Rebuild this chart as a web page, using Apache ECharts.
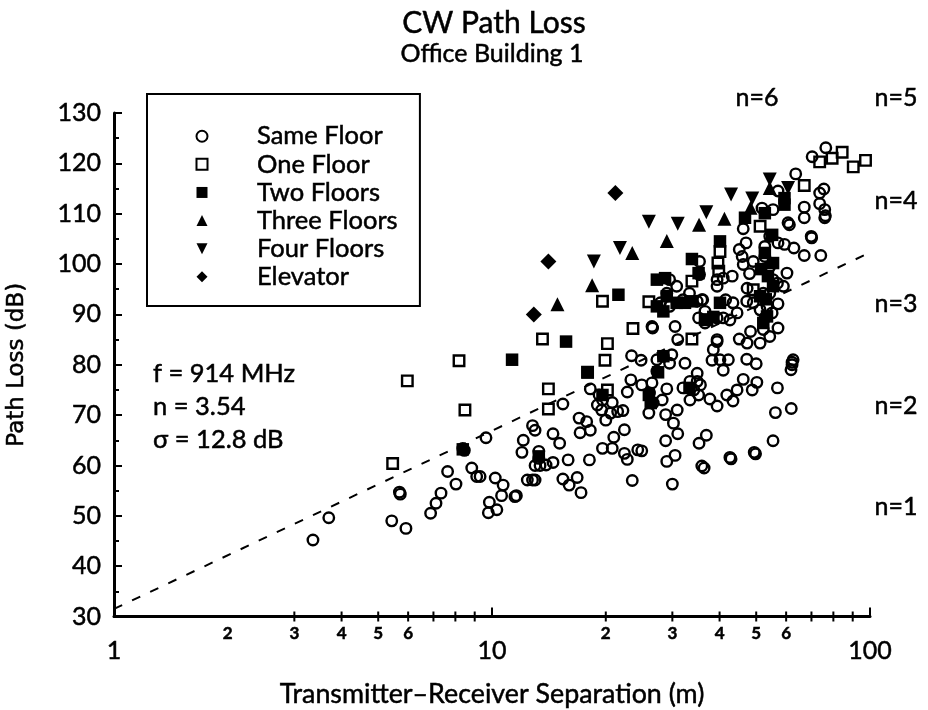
<!DOCTYPE html>
<html><head><meta charset="utf-8">
<style>html,body{margin:0;padding:0;background:#fff}#c{width:928px;height:710px}</style>
<script src="https://cdn.jsdelivr.net/npm/echarts@6/dist/echarts.min.js"></script>
</head><body><div id="c"></div>
<script>
const sameFloor=[[3.36,45.2],[3.7,49.6],[5.43,49],[5.92,47.5],[5.69,54.7],[5.72,54.3],[6.88,50.5],[7.11,52.5],[7.33,54.5],[8.03,56.3],[7.63,58.8],[8.84,59.5],[9.11,57.8],[9.3,57.8],[10.2,57.5],[9.84,52.7],[9.78,50.6],[10.3,51.2],[8.37,63.4],[8.45,63],[9.64,65.5],
[12.8,67.9],[13,67],[12.1,65],[12,62.6],[14.5,66.3],[15.1,64.4],[13.3,62.8],[13.3,61.4],[13,60],[13.4,60],[13.9,60.1],[14.5,60.6],[15.9,61.1],[18.1,61.1],[12.4,57.1],[12.8,57.1],[13,57.1],[10.7,56.1],[10.6,54],[11.6,54],[11.5,53.8],[15.4,57.3],[16,56.1],[16.8,57.6],[17.2,54.6],
[18.2,75.2],[15.4,72.2],[17,69.4],[17.8,68.7],[18.2,67],[17.1,66.5],[19,72],[20.8,72.5],[19.5,71],[20.6,70.4],[21.5,70.7],[22.2,70.9],[20,69],[19.2,74],[19.6,73],[23.4,81.8],[24.8,80.9],[32.4,80.3],[34.9,78.3],[23.3,77],[24.9,76],[22.8,74.6],[26,70.4],[28.8,70.1],[30.9,71],[30.2,68.4],[31,66.3],[28.8,64.9],[22.4,67.1],[21,65.6],[19.6,63.4],[20.8,63.4],[22.4,62.4],[22.8,61.2],[24.3,63.1],[24.9,62.9],[23.5,57],[30,56.3],[30.5,62],[29,60.8],[35.3,64.4],[36.9,66],[35.9,59.9],[36.4,59.5],[42.6,61.6],[42.9,61.3],[49.4,62.6],[49.8,62.3],[55.4,64.9],[56.2,70.5],[61.9,71.3],[56.9,75.4],[62.6,81],[62.2,80],[61.8,79],[62.2,80.5],[37.7,73.2],[39.4,71.8],[41.8,74],[43.4,72.8],[44.5,75],[46.2,77.1],[48.8,75],[50.2,76.5],[38.2,80.9],[40.1,81],[42.2,81],[40.9,78.9],[38.5,83],[39.4,84.6],[47.2,81.1],[50,80.2],
[32,75.4],[33.4,76.7],[34.9,76.7],[35.6,76],[35.2,74],[33.4,73],[34.2,75],[26.5,76.4],[26.1,74.4],[26.7,72.4],[28.2,73],[29,75.2],[27.3,78.7],[28.4,81.7],[29.5,80.3],[27.3,81],[29.9,82],
[76.4,123.1],[70.3,121.3],[63.6,117.9],[75.5,114.9],[73.6,114.1],[73.6,112],[75.9,110.8],[75.9,109.2],[76.2,109.6],[67,111.3],[67,109.2],[60.7,108.2],[61.2,107.8],[69.9,105.5],[70.1,105.2],[67,101.7],[74.1,101.7],[62.9,103.2],[59.4,103.9],[57.1,104.2],[57.1,114.5],[51.8,111.1],[55.4,110.8],[46.2,107],[47,104.2],[45.1,102.9],[45.9,101.5],[46.2,99.9],[49.1,100.5],[48,98.1],[47.3,95.2],[60.3,98.2],[59,95.6],[57.1,92.1],[55.1,90.3],[54.3,85.6],[57.1,87.3],[48.3,86.6],[45.1,85.1],[47.3,84.3],[43.2,97.6],[39.4,85],[35.9,92.9],[35.4,97.9],[35.4,100.5],[30.5,87.6],[31,85],[26.5,87.6],[26.6,87.3],
[29.5,96.9],[29,94.2],[30.8,95.6],[27.9,92.3],[29.5,91.6],[32,92.9],[33.3,94.2],[34.9,92.6],[36.1,92.9],[36.6,90.6],[35.2,89.3],[36.6,88.3],[39.4,89.3],[41.5,92.9],[43.4,92.3],[44.5,90.3],[42.6,88.9],[40.9,89.3],[47.2,92.6],[49.1,92.3],[51.2,90.9],[53.4,91.6],[52.7,89.3],[52.2,87],[51.2,84.3],[54.3,99.5],[55.4,96.9],[52.7,101.5],[54.3,105.5],[52.7,103.5],[56.9,96.2],[52.2,94.2],[54.3,94.2],[39.4,95.6],[39.4,96.9],[40.9,97.2]];
const oneFloor=[[5.46,60.4],[5.97,76.8],[8.18,80.8],[8.48,71],[13.6,85.1],[14.1,75.2],[14.1,71.2],[19.9,80.9],[20.2,84.2],[20.2,75],[17.9,78.5],[19.6,92.6],[23.6,87.2],[26,92.5],[33.8,85.1],[33.8,96.6],[39.6,100.2],[39.8,98.6],[40.1,102.5],[51.2,107.5],[49.1,94.9],[67,115.6],[73.6,120.3],[79.4,121],[84.4,122.2],[90.3,119.3],[97.3,120.6]];
const twoFloors=[[8.37,63.2],[11.3,81],[15.7,84.6],[17.9,78.5],[21.6,93.9],[27.3,96.9],[28.7,97.2],[28.4,90.6],[33.8,101],[40.1,104.5],[32.4,92.3],[36.6,89],[46.7,109.2],[52.7,110.1],[55.1,105.8],[59.4,113.1],[59.4,111.8],[51.5,99],[53,93],[38.5,89.5],[27.5,78.5],[19.6,74],
[29,93.6],[27.3,91.6],[30.8,92.3],[33.8,92.6],[37.1,88.9],[40.1,92.3],[51.2,93.6],[53.7,97.6],[55.4,100.2],[52.7,102.2],[55.4,95.6],[53.4,89.6],[52.2,88.3],[35.2,98.2],[26,74],[26.3,72.4],[33.3,75.4],[28.4,81.7],[13.3,61.8]];
const threeFloors=[[14.9,92],[18.4,95.8],[23.5,102.2],[29,104.6],[35.3,107.8],[41.2,109],[48.3,111.2],[54.3,115.1]];
const fourFloors=[[18.6,100.5],[21.8,103.2],[26,108.4],[31,108],[36.9,110.3],[42.9,113.8],[48.8,113],[54.3,116.8],[60.7,115.1]];
const elevator=[[12.9,90],[14.1,100.5],[21.2,114.1]];
const fitLine=[[1,31.5],[100,102.3]];
const minorTicks=[3,4,5,6,7,8,9,20,30,40,50,60,70,80,90];
const minorLabelValues=[2,3,4,5,6,20,30,40,50,60];
const majorLabels={1:'1',10:'10',100:'100'};
const title='CW Path Loss', subtitle='Office Building 1';
const stats=['f = 914 MHz','n = 3.54','σ = 12.8 dB'];
const slopes=[['n=6',757,98],['n=5',896,98],['n=4',896,201],['n=3',896,304],['n=2',896,406],['n=1',896,507]];

const F='Lato, "Open Sans", sans-serif';
const downTriangle='path://M0,0L10,0L5,10Z';
const openStyle={color:'rgba(255,255,255,0)',borderColor:'#000',borderWidth:2.4,opacity:1};
const solid={color:'#000',borderColor:'#000',borderWidth:0,opacity:1};
function sc(name,data,symbol,size,style){return {name,type:'scatter',data,symbol,symbolSize:size,itemStyle:style,z:3,silent:true};}
const chart=echarts.init(document.getElementById('c'),null,{renderer:'canvas'});
function txt(t,x,y,size,align){return {type:'text',z:10,style:{text:t,x,y,align:align||'center',verticalAlign:'middle',font:size+'px '+F,fill:'#000',stroke:'#000',lineWidth:0.5}};}
const gfx=[txt(title,494,23,30),txt(subtitle,492,54,25)];
stats.forEach((t,i)=>gfx.push(txt(t,153,374+i*33,25.5,'left')));
slopes.forEach(s=>gfx.push(txt(s[0],s[1],s[2],25)));
chart.setOption({
 animation:false,backgroundColor:'#fff',
 grid:{left:114,right:58,top:113,bottom:93.5,outerBoundsMode:'none'},
 xAxis:{type:'log',logBase:10,min:1,max:100,
  name:'Transmitter–Receiver Separation (m)',nameLocation:'middle',nameGap:64,nameTextStyle:{fontFamily:F,fontSize:26.8,color:'#000',textBorderColor:'#000',textBorderWidth:0.5},
  axisLine:{show:true,onZero:false,lineStyle:{color:'#000',width:3}},
  axisTick:{show:true,inside:true,length:9,lineStyle:{color:'#000',width:2}},
  axisLabel:{margin:22,fontFamily:F,fontSize:25,color:'#000',textBorderColor:'#000',textBorderWidth:0.5,formatter:v=>majorLabels[v]||''},
  splitLine:{show:false},minorTick:{show:false},minorSplitLine:{show:false}},
 yAxis:{type:'value',min:30,max:130,interval:10,
  name:'Path Loss (dB)',nameLocation:'middle',nameGap:85,nameRotate:90,nameTextStyle:{fontFamily:'"DejaVu Sans"',fontSize:23,color:'#000',textBorderColor:'#000',textBorderWidth:0.5},
  axisLine:{show:true,onZero:false,lineStyle:{color:'#000',width:3}},
  axisTick:{show:true,inside:true,length:8,lineStyle:{color:'#000',width:2}},
  axisLabel:{margin:13,fontFamily:F,fontSize:25,color:'#000',textBorderColor:'#000',textBorderWidth:0.5},
  splitLine:{show:false},
  minorTick:{show:true,splitNumber:2,length:5,lineStyle:{color:'#000',width:2}},minorSplitLine:{show:false}},
 legend:{orient:'vertical',left:147,top:94,data:[{name:'Same Floor'},{name:'One Floor'},{name:'Two Floors'},{name:'Three Floors'},{name:'Four Floors',icon:downTriangle},{name:'Elevator'}],
  backgroundColor:'#fff',borderColor:'#000',borderWidth:2,padding:[29,22,16,48.5],itemWidth:11,itemHeight:11,itemGap:1.6,
  textStyle:{fontFamily:F,fontSize:25.5,color:'#000',textBorderColor:'#000',textBorderWidth:0.5,padding:[0,0,0,44.5]},selectedMode:false,z:5},
 graphic:gfx,
 series:[
  {name:'fit',type:'line',data:fitLine,showSymbol:false,symbol:'none',lineStyle:{color:'#000',width:2,type:[9,11]},z:2,silent:true},
  {name:'xminor',type:'scatter',data:minorTicks.map(v=>[v,30]),symbol:'rect',symbolSize:[2,10],z:2,silent:true,itemStyle:solid},
  {name:'xminorLabels',type:'scatter',data:minorLabelValues.map(v=>[v,30]),symbol:'rect',symbolSize:[0,0],z:2,silent:true,itemStyle:solid,
   label:{show:true,position:'bottom',distance:9,fontFamily:F,fontSize:17,fontWeight:'bold',color:'#000',textBorderColor:'#000',textBorderWidth:0.5,
    formatter:p=>{const v=p.value[0];return String(v>=10?v/10:v);}}},
  sc('Same Floor',sameFloor,'circle',10.5,openStyle),
  sc('One Floor',oneFloor,'rect',10.5,openStyle),
  sc('Two Floors',twoFloors,'rect',12.5,solid),
  sc('Three Floors',threeFloors,'triangle',14,solid),
  sc('Four Floors',fourFloors,downTriangle,14,solid),
  sc('Elevator',elevator,'diamond',16,solid)
 ]
});
</script></body></html>
